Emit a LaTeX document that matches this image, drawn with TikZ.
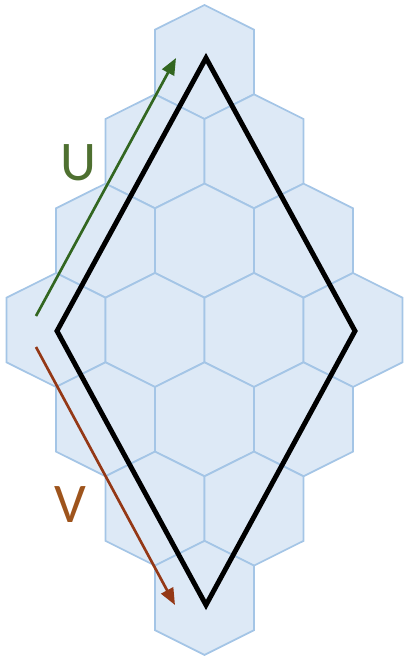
\documentclass[tikz,border=0pt]{standalone}
\usepackage{fontspec}
\setsansfont{Carlito}
\usetikzlibrary{arrows.meta}

\definecolor{hexfill}{RGB}{221,233,246}
\definecolor{hexline}{RGB}{164,197,230}
\definecolor{ugreen}{RGB}{50,102,32}
\definecolor{vbrown}{RGB}{148,56,22}
\definecolor{ulabel}{RGB}{78,112,48}
\definecolor{vlabel}{RGB}{158,84,28}

\tikzset{
  hexcell/.style={fill=hexfill, draw=hexline, line width=1.3pt, line join=miter},
  lattice/.style={black, line width=3.7pt, line join=miter},
  basis/.style={line width=2pt, -{Triangle[length=12.5pt,width=10pt]}},
  basislabel/.style={font=\sffamily\fontsize{42}{42}\selectfont, inner sep=0pt}
}

\begin{document}
\begin{tikzpicture}[x=0.75pt, y=-0.75pt]

    \useasboundingbox (0,0) rectangle (404,660);

    % Hexagon cells (pointy top), rows from top to bottom
    \foreach \cx/\cy in {204.5/62,
        155/151.3, 254/151.3,
        105.5/240.6, 204.5/240.6, 303.5/240.6,
        56/330, 155/330, 254/330, 353/330,
        105.5/419.3, 204.5/419.3, 303.5/419.3,
        155/508.6, 254/508.6,
        204.5/597.9}
      \draw[hexcell] (\cx,\cy) ++(0,-57) -- ++(49.5,24.7) -- ++(0,64.6)
        -- ++(-49.5,24.7) -- ++(-49.5,-24.7) -- ++(0,-64.6) -- cycle;

    % Corners of the lattice cell
    \coordinate (top) at (206,58);
    \coordinate (left) at (57,331);
    \coordinate (right) at (355,331);
    \coordinate (bottom) at (206,605);

    % Lattice cell
    \draw[lattice] (top) -- (right) -- (bottom) -- (left) -- cycle;

    % Basis vectors
    \coordinate (ustart) at (36,316);
    \coordinate (uend) at (176,58);
    \coordinate (vstart) at (36,347);
    \coordinate (vend) at (175,605);
    \draw[basis, ugreen] (ustart) -- (uend);
    \draw[basis, vbrown] (vstart) -- (vend);

    % Labels
    \node[basislabel, ulabel, anchor=base] (ulbl) at (78,180) {U};
    \node[basislabel, vlabel, anchor=base] (vlbl) at (70.5,522) {V};

\end{tikzpicture}
\end{document}
